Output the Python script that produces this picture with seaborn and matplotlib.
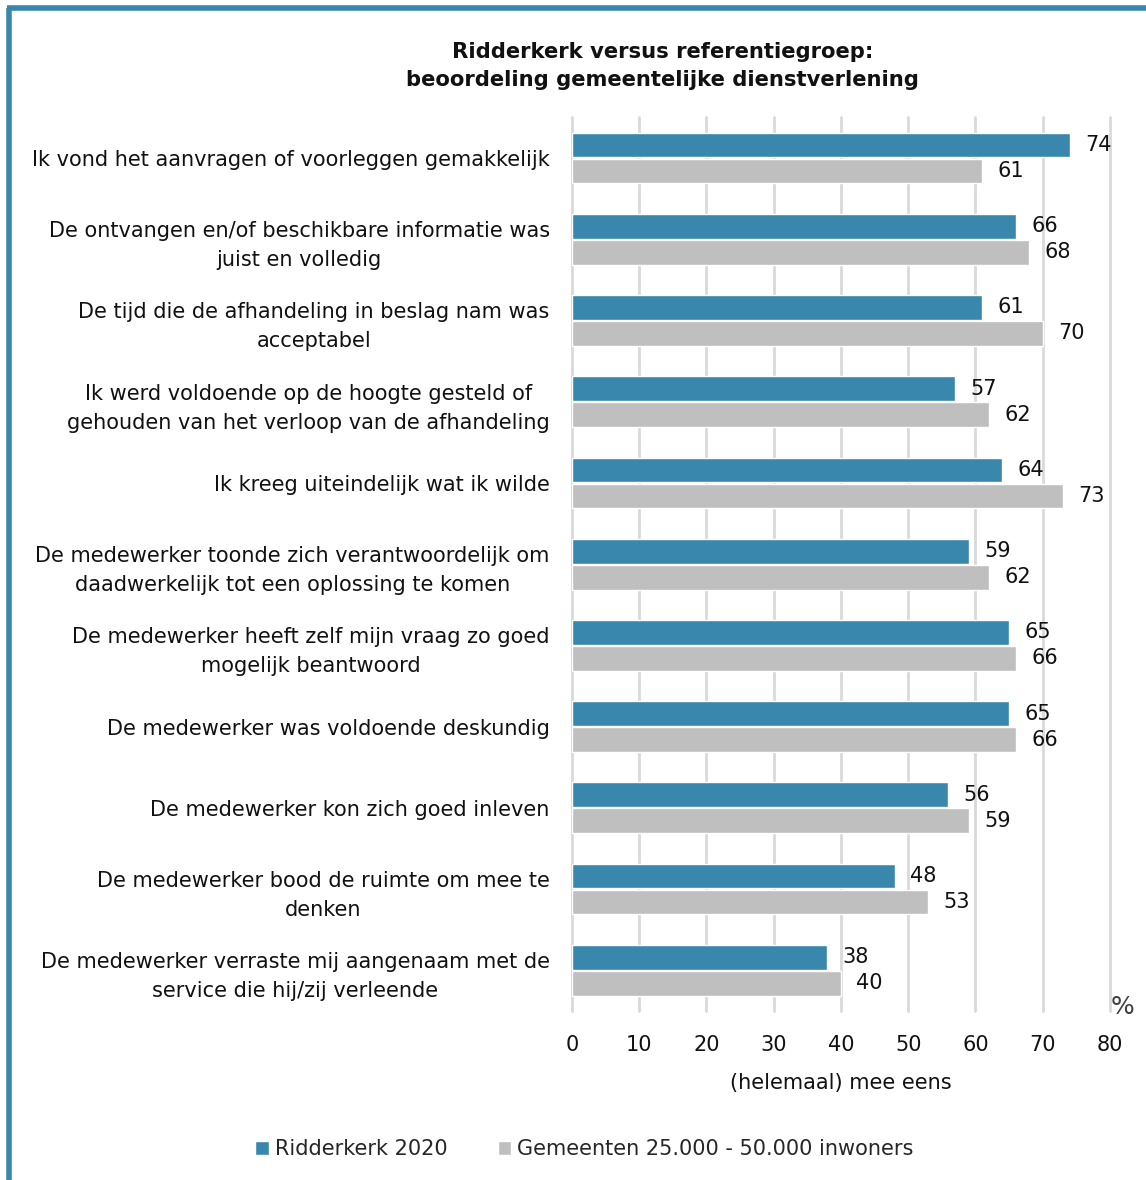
import matplotlib
matplotlib.use("Agg")
import matplotlib.pyplot as plt
import seaborn as sns
import pandas as pd
from matplotlib.lines import Line2D
from matplotlib.patches import Patch

categories = [
    "Ik vond het aanvragen of voorleggen gemakkelijk",
    "De ontvangen en/of beschikbare informatie was\njuist en volledig",
    "De tijd die de afhandeling in beslag nam was\nacceptabel",
    "Ik werd voldoende op de hoogte gesteld of\ngehouden van het verloop van de afhandeling",
    "Ik kreeg uiteindelijk wat ik wilde",
    "De medewerker toonde zich verantwoordelijk om\ndaadwerkelijk tot een oplossing te komen",
    "De medewerker heeft zelf mijn vraag zo goed\nmogelijk beantwoord",
    "De medewerker was voldoende deskundig",
    "De medewerker kon zich goed inleven",
    "De medewerker bood de ruimte om mee te\ndenken",
    "De medewerker verraste mij aangenaam met de\nservice die hij/zij verleende",
]
ridderkerk = [74, 66, 61, 57, 64, 59, 65, 65, 56, 48, 38]
gemeenten = [61, 68, 70, 62, 73, 62, 66, 66, 59, 53, 40]
series_names = ["Ridderkerk 2020", "Gemeenten 25.000 - 50.000 inwoners"]
xticks = [0, 10, 20, 30, 40, 50, 60, 70, 80]

BLUE = "#3a87ad"
GREY = "#bfbfbf"
TXT = "#111111"
FS = 15

sns.set_theme(style="white")
plt.rcParams["font.family"] = ["DejaVu Sans"]

df = pd.DataFrame({
    "cat": categories * 2,
    "val": ridderkerk + gemeenten,
    "series": [series_names[0]] * len(categories) + [series_names[1]] * len(categories),
})

fig = plt.figure(figsize=(11.46, 11.8), dpi=100)
ax = fig.add_axes([0.499, 0.1433, 0.4695, 0.7572])

sns.barplot(data=df, y="cat", x="val", hue="series", order=categories,
            hue_order=series_names, palette=[BLUE, GREY], orient="h",
            width=0.64, gap=0.05, ax=ax, legend=False, saturation=1)

for cont in ax.containers:
    ax.bar_label(cont, padding=11, fontsize=FS, color=TXT)

ax.set_xlim(0, 80)
ax.set_xticks(xticks)
ax.set_xticklabels([str(t) for t in xticks], fontsize=FS, color=TXT)
ax.set_ylim(len(categories) - 0.5, -0.5)
ax.set_ylabel("")
ax.set_xlabel("(helemaal) mee eens", fontsize=FS, color=TXT, labelpad=13)
ax.tick_params(axis="y", labelsize=FS, length=0, pad=16, labelcolor=TXT)
ax.tick_params(axis="x", length=0, pad=17)
for lbl in ax.get_yticklabels():
    lbl.set_multialignment("center")
    lbl.set_linespacing(1.55)

ax.xaxis.grid(True, color="#d9d9d9", linewidth=2)
ax.yaxis.grid(False)
ax.set_axisbelow(True)
for gl in ax.get_xgridlines():
    gl.set_clip_on(False)
for s in ax.spines.values():
    s.set_visible(False)

ax.text(1.002, 0.004, "%", transform=ax.transAxes, fontsize=18, color="#404040",
        ha="left", va="center")

fig.text(0.578, 0.944, "Ridderkerk versus referentiegroep:\nbeoordeling gemeentelijke dienstverlening",
         ha="center", va="center", fontsize=15.2, fontweight="bold", color=TXT,
         linespacing=1.5)

handles = [Patch(facecolor=BLUE), Patch(facecolor=GREY)]
fig.legend(handles, series_names, loc="center", bbox_to_anchor=(0.51, 0.026), ncol=2,
           frameon=False, fontsize=FS, handlelength=0.65, handleheight=0.65,
           handletextpad=0.3, columnspacing=2.4)

fig.add_artist(Line2D([0.0075, 0.0075], [0.0, 0.9935], color=BLUE, linewidth=4,
                      transform=fig.transFigure, solid_capstyle="butt"))
fig.add_artist(Line2D([0.0058, 1.0], [0.9935, 0.9935], color=BLUE, linewidth=4,
                      transform=fig.transFigure, solid_capstyle="butt"))

fig.savefig("out.png", dpi=100)
